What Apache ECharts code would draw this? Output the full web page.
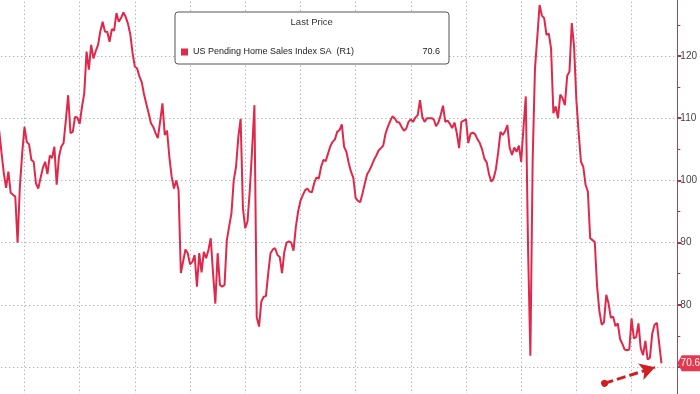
<!DOCTYPE html>
<html><head><meta charset="utf-8">
<script src="https://cdn.jsdelivr.net/npm/echarts@6/dist/echarts.min.js"></script>
<style>html,body{margin:0;padding:0;background:#fff;overflow:hidden;width:700px;height:394px;position:relative}
#c{position:absolute;left:-31px;top:-7px;width:731px;height:437px}</style>
</head><body><div id="c"></div>
<script>
// US Pending Home Sales Index SA, monthly, Jan 2001 .. Jan 2025
const seriesName = 'US Pending Home Sales Index SA  (R1)';
const firstYear = 2001;
const y2001 = [108, 104.5, 101.2, 98.8, 101.4, 98, 97.7, 97.4, 90, 99, 104.3, 108.6];
const y2002 = [106.2, 105.8, 103.3, 103, 99.5, 98.7, 100.4, 102, 103, 101, 104, 103.6];
const y2003 = [105.4, 99.3, 103.8, 105.4, 106, 109.7, 113.7, 107.6, 107.8, 110.2, 110.1, 109.1];
const y2004 = [111.8, 114, 120.7, 117.8, 121.8, 119.6, 120.8, 121.8, 124, 125.5, 123.9, 123.9];
const y2005 = [122.3, 124.3, 124.1, 126.9, 125.5, 126.1, 127, 126.3, 125.2, 123.5, 120.5, 118.3];
const y2006 = [118, 116.7, 115.8, 113.8, 112.3, 110.8, 109.2, 108.6, 107.6, 106.8, 109.5, 112.4];
const y2007 = [107.3, 108, 103.8, 100.6, 98.7, 100, 98.5, 85.1, 87, 88.9, 88.3, 86.5];
const y2008 = [86.9, 88, 82.9, 88.3, 85.2, 88.5, 87.5, 88.8, 90.7, 85.1, 80.2, 88.3];
const y2009 = [83.2, 82.9, 83.2, 90.4, 92.6, 94.7, 100, 102.2, 107, 109.9, 95.5, 92.3];
const y2010 = [93.4, 98.5, 105, 112.1, 78, 76.5, 80.5, 81.3, 81.4, 85.1, 88.3, 88.9];
const y2011 = [89.1, 88, 87.7, 85.1, 88.5, 90, 90.2, 90, 88.7, 92.5, 95, 96.7];
const y2012 = [97.6, 98.4, 98.7, 98.2, 98.1, 99.6, 100.5, 100.3, 102.2, 103.3, 103.1, 104.3];
const y2013 = [105.5, 106.2, 106.6, 107.8, 108.1, 109, 105.4, 104.6, 102.8, 101.4, 100.4, 97.2];
const y2014 = [96.7, 96.5, 97.9, 99.5, 101, 101.6, 102.4, 103.3, 104, 104.8, 105.2, 105.6];
const y2015 = [107.5, 108.6, 109.5, 110.3, 110, 109.4, 109.3, 108.6, 108, 108.3, 109.4, 109.8];
const y2016 = [109.4, 110.1, 110.5, 112.9, 110.2, 109.4, 110, 110, 110, 109.8, 108.7, 109.3];
const y2017 = [110.5, 112, 109.4, 109.6, 109.1, 108.4, 109.3, 107.6, 105.2, 109.4, 109.6, 109.8];
const y2018 = [106, 107.5, 107.7, 107.4, 106.6, 106, 105, 103.5, 102.9, 101, 99.8, 100.3];
const y2019 = [101.8, 104.5, 107.8, 107.3, 107.9, 108.9, 105.2, 104.1, 105.3, 104.6, 105.6, 103];
const y2020 = [108.5, 113.5, 88.8, 71.8, 103.5, 118, 123, 128.2, 126.5, 126.1, 123.4, 123.6];
const y2021 = [121.2, 110.8, 111.9, 110, 113.8, 113.2, 112.1, 116.8, 117.5, 125.3, 121.5, 112.9];
const y2022 = [107.6, 103, 102.2, 99.3, 98.2, 90.7, 90.4, 90.1, 83, 79, 76.8, 77.2];
const y2023 = [81.6, 80.2, 77.9, 78.1, 76.6, 77, 74.5, 73.7, 72.8, 72.7, 72.8, 77.8];
const y2024 = [74.6, 74.8, 77, 73, 71.9, 74.2, 71.2, 71.5, 75.4, 76.8, 77.1, 73.8];
const y2025 = [70.6];
const yearly = [y2001,y2002,y2003,y2004,y2005,y2006,y2007,y2008,y2009,y2010,y2011,y2012,
  y2013,y2014,y2015,y2016,y2017,y2018,y2019,y2020,y2021,y2022,y2023,y2024,y2025];
const yTicks = [80, 90, 100, 110, 120];

// monthly points plotted at month end (fractional year)
const data = [];
yearly.forEach((arr, yi) => arr.forEach((v, mi) => data.push([firstYear + yi + (mi + 1) / 12, v])));
const last = data[data.length - 1];

// the chart container is shifted by (-31, -7) px, so page coords = div coords - offset
const OX = 31, OY = 7;
const RED = '#e0284a';
const chart = echarts.init(document.getElementById('c'), null, {renderer: 'canvas'});
chart.setOption({
  animation: false,
  backgroundColor: '#ffffff',
  grid: {left: 0.28, right: 22.3, top: 0.8, bottom: 0.8, containLabel: false},
  xAxis: {
    type: 'value', min: 2000, max: 2025.658, interval: 2,
    axisLine: {show: false}, axisTick: {show: false}, axisLabel: {show: false},
    splitLine: {show: true, lineStyle: {type: [1, 3], color: '#9a9a9a', width: 1}}
  },
  yAxis: {
    type: 'value', position: 'right', min: 60, max: 130, interval: 10,
    axisLine: {show: true, lineStyle: {color: '#9b4a5e', width: 1}},
    axisTick: {show: true, length: 4, lineStyle: {color: '#b3304c', width: 2}},
    minorTick: {show: true, splitNumber: 2, length: 3, lineStyle: {color: '#b3304c', width: 1}},
    axisLabel: {
      margin: 3, fontSize: 10, color: '#444', fontFamily: 'Liberation Sans',
      formatter: v => (yTicks.indexOf(v) >= 0 ? String(v) : '')
    },
    splitLine: {show: true, lineStyle: {type: [1, 3], color: '#9a9a9a', width: 1}}
  },
  legend: {
    show: true, left: 181 + OX, top: 47.5 + OY, padding: 0, z: 12,
    icon: 'rect', itemWidth: 7, itemHeight: 7, itemGap: 4,
    selectedMode: false,
    textStyle: {fontSize: 9, color: '#222', fontFamily: 'Liberation Sans',
      rich: {n: {fontSize: 9, width: 229, color: '#222', fontFamily: 'Liberation Sans'},
             v: {fontSize: 9, width: 18, align: 'right', color: '#222', fontFamily: 'Liberation Sans'}}},
    formatter: name => '{n|' + name + '}{v|' + last[1] + '}',
    data: [{name: seriesName, itemStyle: {color: RED}}]
  },
  graphic: [
    {type: 'rect', z: 10, shape: {x: 175 + OX, y: 12 + OY, width: 274, height: 52, r: 3},
     style: {fill: '#ffffff', stroke: '#555555', lineWidth: 1}},
    {type: 'text', z: 11, x: 311.7 + OX, y: 22.5 + OY,
     style: {text: 'Last Price', fontSize: 9.5, fill: '#333', fontFamily: 'Liberation Sans',
       align: 'center', verticalAlign: 'middle'}}
  ],
  series: [{
    name: seriesName, type: 'line', data: data, showSymbol: false, symbol: 'none',
    lineStyle: {color: RED, width: 2}, itemStyle: {color: RED}, z: 3,
    markPoint: {
      silent: true, animation: false,
      symbol: 'path://M0,8 L6,0 L40,0 L40,16 L6,16 Z', symbolSize: [30, 16],
      symbolOffset: [15, 0], symbolKeepAspect: false,
      itemStyle: {color: '#e5384f'},
      label: {show: true, color: '#fff', fontSize: 10, fontFamily: 'Liberation Sans',
        position: 'inside', offset: [-2, 0], formatter: () => String(last[1])},
      data: [{coord: [2025.658, last[1]]}]
    },
    markLine: {
      silent: true, animation: false,
      label: {show: false},
      lineStyle: {color: '#d01f23', width: 3, type: [9, 4]},
      data: [[
        {coord: [2023.02, 67.38], symbol: 'circle', symbolSize: 7},
        {coord: [2024.851, 69.95], symbol: 'arrow', symbolSize: [13, 15]}
      ]]
    }
  }]
});
</script></body></html>
